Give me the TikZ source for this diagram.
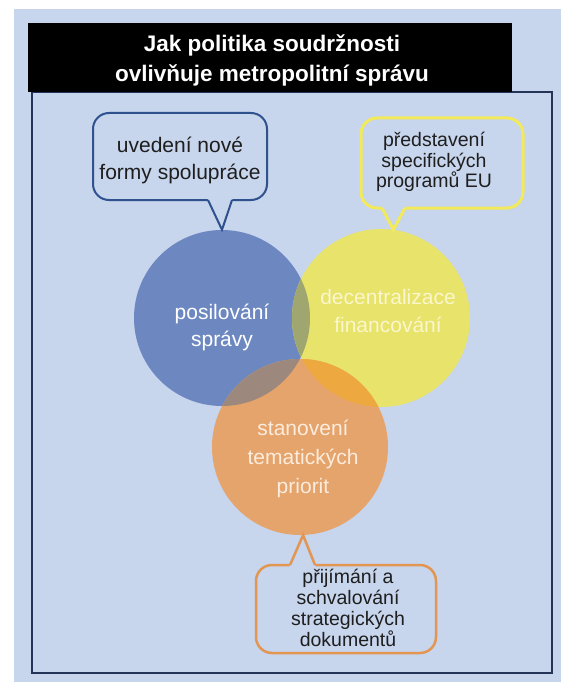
\documentclass[tikz,border=0pt]{standalone}
\usepackage{fontspec}
\setmainfont{Liberation Sans}
\usetikzlibrary{positioning}

\definecolor{bgblue}{RGB}{199,213,237}
\definecolor{framenavy}{RGB}{36,52,87}
\definecolor{govblue}{RGB}{109,136,193}
\definecolor{finyellow}{RGB}{232,227,106}
\definecolor{prioorange}{RGB}{228,164,108}
\definecolor{govfin}{RGB}{160,166,112}
\definecolor{govprio}{RGB}{156,136,124}
\definecolor{finprio}{RGB}{238,168,64}
\definecolor{allthree}{RGB}{180,148,92}
\definecolor{bubblueline}{RGB}{47,82,143}
\definecolor{bubyellowline}{RGB}{242,234,90}
\definecolor{buborangeline}{RGB}{226,150,82}
\definecolor{textdark}{RGB}{30,30,30}
\definecolor{finlabel}{RGB}{250,246,205}
\definecolor{priolabel}{RGB}{252,236,222}

\begin{document}
\begin{tikzpicture}[x=1pt, y=-1pt,
    circ/.style={circle, minimum size=176pt, inner sep=0pt},
    circtext/.style={align=center, font=\fontsize{21}{27}\selectfont},
    bubtext/.style={align=center, text=textdark, inner sep=0pt},
    bubbox/.style={rounded corners=16pt, fill=bgblue}
]

% Page and frame
\useasboundingbox (0,0) rectangle (561,682);
\fill[bgblue] (14,9) rectangle (561,682);
\draw[framenavy, line width=2pt] (32,92) rectangle (552,673);

% Title bar
\fill[black] (28,23) rectangle (512,92);
\node[text=white, align=center, inner sep=0pt,
      font=\bfseries\fontsize{22.5}{30}\selectfont] (title) at (272,60)
      {Jak politika soudržnosti\\ovlivňuje metropolitní správu};

% Three circles
\node[circ, fill=govblue] (gov) at (222,318) {};
\node[circ, fill=finyellow, minimum size=178pt] (fin) at (381,318) {};
\node[circ, fill=prioorange] (prio) at (300,447) {};

% Overlaps
\begin{scope}
  \clip (gov.center) circle[radius=88pt];
  \fill[govfin] (fin.center) circle[radius=89pt];
  \fill[govprio] (prio.center) circle[radius=88pt];
\end{scope}
\begin{scope}
  \clip (fin.center) circle[radius=89pt];
  \fill[finprio] (prio.center) circle[radius=88pt];
  \clip (gov.center) circle[radius=88pt];
  \fill[allthree] (prio.center) circle[radius=88pt];
\end{scope}

% Circle labels
\node[circtext, text=white] (govlabel) at (222,327) {posilování\\správy};
\node[circtext, text=finlabel, font=\fontsize{21}{28}\selectfont] (finlabeltext) at (388,311) {decentralizace\\financování};
\node[circtext, text=priolabel, font=\fontsize{21}{29}\selectfont] (priolabeltext) at (303,459) {stanovení\\tematických\\priorit};

% Callout: blue
\draw[bubblueline, line width=2pt, bubbox] (93,113) rectangle (267,200);
\fill[bgblue] (207,197.5) -- (gov.north) -- (233,197.5) -- cycle;
\draw[bubblueline, line width=2pt] (208,200) -- (gov.north) -- (232,200);
\node[bubtext, font=\fontsize{21}{27}\selectfont] (newform) at (180,160) {uvedení nové\\formy spolupráce};

% Callout: yellow
\draw[bubyellowline, line width=3pt, bubbox] (361,118) rectangle (523,208);
\fill[bgblue] (381,205) -- (fin.82) -- (406,205) -- cycle;
\draw[bubyellowline, line width=3pt] (382,208) -- (fin.82) -- (405,208);
\node[bubtext, font=\fontsize{19.5}{20.5}\selectfont] (euprog) at (434,162) {představení\\specifických\\programů EU};

% Callout: orange
\draw[buborangeline, line width=2.5pt, bubbox] (256,565) rectangle (436,653);
\fill[bgblue] (289,567.5) -- (prio.-88) -- (316,567.5) -- cycle;
\draw[buborangeline, line width=2.5pt] (290,565) -- (prio.-88) -- (315,565);
\node[bubtext, font=\fontsize{19.5}{21}\selectfont] (strategy) at (348,608) {přijímání a\\schvalování\\strategických\\dokumentů};

\end{tikzpicture}
\end{document}
